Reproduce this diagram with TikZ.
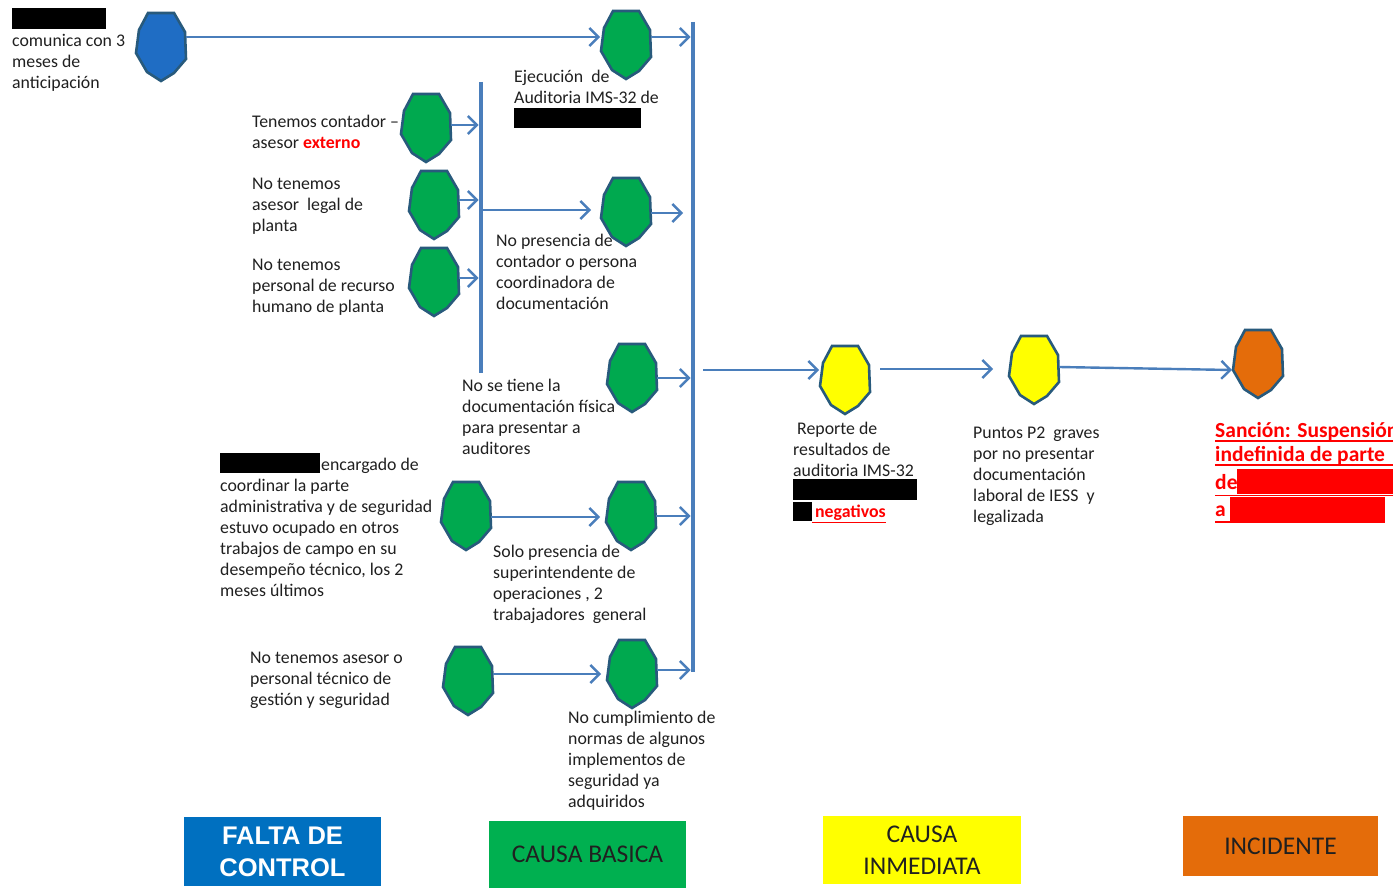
\documentclass[tikz,border=0pt]{standalone}
\usepackage{fontspec}
\setmainfont{Carlito}
\newfontfamily\legendsans{Liberation Sans}
\usetikzlibrary{arrows.meta}

\definecolor{flow}{HTML}{4A7EBB}
\definecolor{octedge}{HTML}{285A7C}
\definecolor{ctrlblue}{HTML}{1F6DC4}
\definecolor{basegreen}{HTML}{00A94F}
\definecolor{nowyellow}{HTML}{FFFF00}
\definecolor{eventorange}{HTML}{E46C0A}
\definecolor{legblue}{HTML}{0070C0}
\definecolor{leggreen}{HTML}{00B050}
\definecolor{txt}{HTML}{202020}
\definecolor{alert}{HTML}{FF0000}

\tikzset{
  octbox/.style={minimum width=50pt, minimum height=68pt, inner sep=0pt, outer sep=0pt},
  octshape/.style={draw=octedge, line width=2.6pt, line join=miter, fill=#1},
  flowarrow/.style={draw=flow, line width=2.4pt,
    -{Straight Barb[length=9pt,width=18pt,line width=2.4pt]}},
  busbar/.style={draw=flow, line width=4.5pt},
  txtblk/.style={anchor=north west, inner sep=0pt, align=left, text=txt,
    font=\fontsize{17.8}{21}\selectfont},
  hidden/.style={fill=black},
  legendbox/.style={inner sep=0pt, align=center, text=txt,
    font=\fontsize{25.5}{32}\selectfont}
}

% octagon marker: name, centre, fill colour
\newcommand\octat[3]{%
  \node[octbox] (#1) at (#2) {};
  \draw[octshape=#3, shift={(#1.center)}]
    (-13,-34) -- (13,-34) -- (24,-15) -- (25,12) -- (13,26) -- (0,34)
    -- (-14,25) -- (-25,6) -- (-22,-17) -- cycle;
}

\begin{document}
\begin{tikzpicture}[x=1pt,y=-1pt]
\useasboundingbox (0,0) rectangle (1393,888);
\clip (0,0) rectangle (1393,888);
\fill[white] (0,0) rectangle (1393,888);

% collecting bars
\coordinate (mtop) at (693,22);
\coordinate (mbot) at (693,672);
\coordinate (stop) at (481,82);
\coordinate (sbot) at (481,373);
\draw[busbar] (mtop) -- (mbot);
\draw[busbar] (stop) -- (sbot);

% markers
\octat{b0}{161,47}{ctrlblue}
\octat{g1}{626,45}{basegreen}
\octat{g2}{426,128}{basegreen}
\octat{g3}{434,205}{basegreen}
\octat{g4}{434,282}{basegreen}
\octat{g5}{626,212}{basegreen}
\octat{g6}{632,378}{basegreen}
\octat{g7}{466,516}{basegreen}
\octat{g8}{631,516}{basegreen}
\octat{g9}{468,681}{basegreen}
\octat{g10}{632,674}{basegreen}
\octat{y1}{845,380}{nowyellow}
\octat{y2}{1034,370}{nowyellow}
\octat{o1}{1258,364}{eventorange}

% connectors
\draw[flowarrow] ([yshift=10pt]b0.east) -- ([yshift=10pt,xshift=-1pt]b0.east -| g1.west);
\draw[flowarrow] ([yshift=8pt]g1.east) -- ([yshift=8pt,xshift=-2.5pt]g1.east -| mtop);
\draw[flowarrow] ([yshift=3pt]g2.east) -- ([yshift=3pt,xshift=-2.5pt]g2.east -| stop);
\draw[flowarrow] ([yshift=5pt]g3.east) -- ([yshift=5pt,xshift=-2.5pt]g3.east -| stop);
\draw[flowarrow] ([yshift=4pt]g4.east) -- ([yshift=4pt,xshift=-2.5pt]g4.east -| stop);
\draw[flowarrow] ([yshift=2pt,xshift=2pt]g5.west -| stop) -- ([yshift=2pt,xshift=-10pt]g5.west);
\draw[flowarrow] ([yshift=-1pt]g5.east) -- ([yshift=-1pt,xshift=-10pt]g5.east -| mtop);
\draw[flowarrow] (g6.east) -- ([xshift=-2.5pt]g6.east -| mtop);
\draw[flowarrow] ([yshift=-1pt]g7.east) -- ([yshift=-1pt,xshift=-6pt]g8.west);
\draw[flowarrow] (g8.east) -- ([xshift=-2.5pt]g8.east -| mtop);
\draw[flowarrow] ([yshift=7pt]g9.east) -- ([yshift=7pt,xshift=-6pt]g9.east -| g10.west);
\draw[flowarrow] ([yshift=4pt]g10.east) -- ([yshift=4pt,xshift=-2.5pt]g10.east -| mtop);
\draw[flowarrow] ([xshift=10pt,yshift=10pt]y1.west -| mtop) -- ([yshift=10pt,xshift=-1pt]y1.west);
\draw[flowarrow] ([xshift=10pt,yshift=11pt]y1.east) -- ([yshift=11pt,xshift=-16pt]y1.east -| y2.west);
\draw[flowarrow] ([yshift=3pt]y2.east) -- ([yshift=-6pt,xshift=-1pt]o1.west);

% texts
\fill[hidden] (12,8) rectangle (106,29);
\node[txtblk] (t0) at (12,34) {comunica con 3\\meses de\\anticipación};

\node[txtblk] (t1) at (514,70) {Ejecución\ \ de\\Auditoria IMS-32 de};
\fill[hidden] (514,108) rectangle (641,128);

\node[txtblk] (t2) at (252,115) {Tenemos contador –\\asesor {\bfseries\color{alert}externo}};
\node[txtblk] (t3) at (252,178) {No tenemos\\asesor\ \ legal de\\planta};
\node[txtblk] (t4) at (252,259) {No tenemos\\personal de recurso\\humano de planta};
\node[txtblk] (t5) at (496,234) {No presencia de\\contador o persona\\coordinadora de\\documentación};
\node[txtblk] (t6) at (462,379) {No se tiene la\\documentación física\\para presentar a\\auditores};

\fill[hidden] (220,453) rectangle (320,473);
\node[txtblk] (t7) at (220,458) {\hspace*{101pt}encargado de\\coordinar la parte\\administrativa y de seguridad\\estuvo ocupado en otros\\trabajos de campo en su\\desempeño técnico, los 2\\meses últimos};
\node[txtblk] (t8) at (493,545) {Solo presencia de\\superintendente de\\operaciones , 2\\trabajadores\ \ general};
\node[txtblk] (t9) at (250,652) {No tenemos asesor o\\personal técnico de\\gestión y seguridad};
\node[txtblk] (t10) at (568,711) {No cumplimiento de\\normas de algunos\\implementos de\\seguridad ya\\adquiridos};

\node[txtblk] (t11) at (793,422) {\hspace*{4pt}Reporte de\\resultados de\\auditoria IMS-32};
\fill[hidden] (793,479) rectangle (917,500);
\fill[hidden] (793,502) rectangle (812,521);
\node[txtblk] (t11b) at (812,505) {\color{alert}\bfseries\underline{\,negativos}};

\node[txtblk] (t12) at (973,427) {Puntos P2\ \ graves\\por no presentar\\documentación\\laboral de IESS\ \ y\\legalizada};

% sanction
\begin{scope}[every node/.style={anchor=base west, inner sep=0pt, text=alert,
    font=\fontsize{21.5}{26}\selectfont\bfseries}]
  \fill[alert] (1237,469) rectangle (1393,494);
  \fill[alert] (1230,497) rectangle (1385,521);
  \node (s1) at (1215,437) {Sanción: Suspensión};
  \node (s2) at (1215,461) {indefinida de parte};
  \node (s3) at (1215,489) {de};
  \node (s4) at (1215,516) {a};
  \draw[alert, line width=1.3pt] (1215,441) -- (1393,441);
  \draw[alert, line width=1.3pt] (1215,465) -- (1393,465);
  \draw[alert, line width=1.3pt] (1215,495.5) -- (1393,495.5);
  \draw[alert, line width=1.3pt] (1215,522) -- (1385,522);
\end{scope}

% legend
\node[legendbox, fill=legblue, minimum width=197pt, minimum height=69pt, text=white,
  font=\legendsans\fontsize{25.5}{32}\selectfont\bfseries] (l1) at (282.5,851.5) {FALTA DE\\CONTROL};
\node[legendbox, fill=leggreen, minimum width=197pt, minimum height=67pt] (l2) at (587.5,854.5) {CAUSA BASICA};
\node[legendbox, fill=nowyellow, minimum width=198pt, minimum height=68pt] (l3) at (922,850) {CAUSA\\INMEDIATA};
\node[legendbox, fill=eventorange, minimum width=195pt, minimum height=60pt] (l4) at (1280.5,846) {INCIDENTE};
\end{tikzpicture}
\end{document}
